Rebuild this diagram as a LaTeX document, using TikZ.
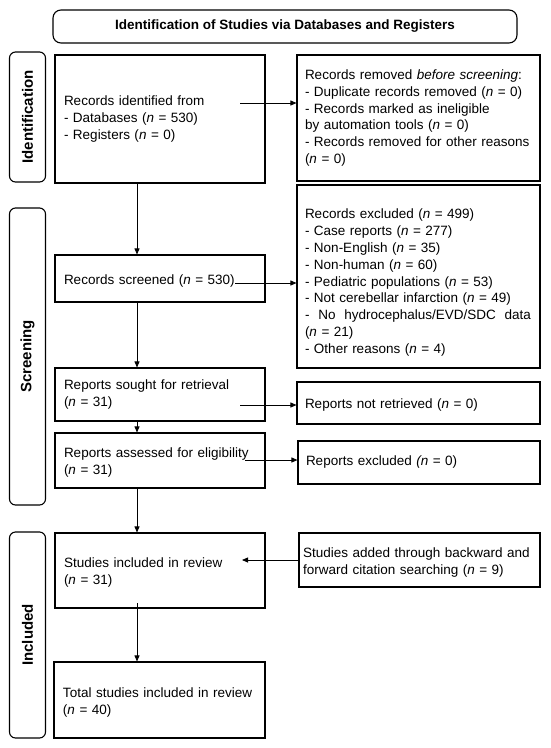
\documentclass[tikz,border=0pt]{standalone}
\usepackage{fontspec}
\setmainfont{Liberation Sans}
\usetikzlibrary{arrows.meta}
\newcommand\tgap[1]{\rule{0pt}{#1}}
\begin{document}
\begin{tikzpicture}[x=1pt,y=1pt,
  box/.style={draw,line width=1.1pt,rectangle,inner xsep=9pt,inner ysep=0pt,align=left,
    font=\fontsize{13.5}{16.8}\selectfont},
  side/.style={draw,line width=1.1pt,rounded corners=6pt,minimum height=36pt,inner sep=0pt,
    rotate=90,font=\fontsize{15}{18}\selectfont\bfseries},
  arr/.style={line width=0.8pt,-{Triangle[length=6pt,width=5pt]}}]
\useasboundingbox (0,0) rectangle (550,-748);
% title
\node[draw,line width=1.1pt,rounded corners=8pt,minimum width=464pt,minimum height=33pt,
  font=\fontsize{13.5}{16}\selectfont\bfseries] (title) at (285,-26.5)
  {Identification of Studies via Databases and Registers};
% side labels
\node[side,minimum width=130pt] (sid) at (27.5,-117) {Identification};
\node[side,minimum width=297pt] (sscr) at (27.5,-356.5) {Screening};
\node[side,minimum width=206pt] (sinc) at (27.5,-635) {Included};
% boxes
\node[box,text width=192pt,minimum height=128pt] (ident) at (160,-119)
  {Records identified from\\- Databases (\textit{n} = 530)\\- Registers (\textit{n} = 0)\\[14pt]};
\node[box,text width=227pt,inner xsep=8pt,minimum height=126pt] (removed) at (418.5,-118)
  {Records removed \textit{before screening}:\\- Duplicate records removed (\textit{n} = 0)\\- Records marked as ineligible\\by automation tools (\textit{n} = 0)\\- Records removed for other reasons\\(\textit{n} = 0)};
\node[box,text width=192pt,minimum height=47pt] (screened) at (160,-278.5)
  {\tgap{14pt}Records screened (\textit{n} = 530)};
\node[box,text width=227pt,inner xsep=8pt,minimum height=183pt] (excl) at (418.5,-276.5)
  {\tgap{22pt}Records excluded (\textit{n} = 499)\\- Case reports (\textit{n} = 277)\\- Non-English (\textit{n} = 35)\\- Non-human (\textit{n} = 60)\\- Pediatric populations (\textit{n} = 53)\\- Not cerebellar infarction (\textit{n} = 49)\\\makebox[226pt][l]{-\hfill No\hfill hydrocephalus/EVD/SDC\hfill data}\\(\textit{n} = 21)\\- Other reasons (\textit{n} = 4)};
\node[box,text width=192pt,minimum height=53pt] (sought) at (160,-394.5)
  {Reports sought for retrieval\\(\textit{n} = 31)\\[8pt]};
\node[box,text width=227pt,inner xsep=8pt,minimum height=42pt] (notret) at (418.5,-403)
  {\tgap{13pt}Reports not retrieved (\textit{n} = 0)};
\node[box,text width=192pt,minimum height=55pt] (assessed) at (160,-460.5)
  {\tgap{14pt}Reports assessed for eligibility\\(\textit{n} = 31)};
\node[box,text width=226pt,inner xsep=8pt,minimum height=43pt] (repexcl) at (419,-462.5)
  {Reports excluded \textit{(n} = 0)};
\node[box,text width=192pt,minimum height=75pt] (incl) at (160,-570.5)
  {\tgap{14pt}Studies included in review\\(\textit{n} = 31)};
\node[box,text width=233pt,inner xsep=4pt,minimum height=54pt] (added) at (419.5,-560)
  {\tgap{14pt}Studies added through backward and\\forward citation searching (\textit{n} = 9)};
\node[box,text width=193pt,minimum height=76pt] (total) at (159.5,-700)
  {\tgap{14pt}Total studies included in review\\(\textit{n} = 40)};
% connectors
\coordinate (a1) at (240,-103);
\draw[arr] (a1) -- (a1 -| removed.west);
\coordinate (v1) at (137,0);
\draw[arr] (v1 |- ident.south) -- (v1 |- screened.north);
\coordinate (a2) at (235,-283);
\draw[arr] (a2) -- (a2 -| excl.west);
\draw[arr] (v1 |- screened.south) -- (v1 |- sought.north);
\coordinate (a3) at (240,-405);
\draw[arr] (a3) -- (a3 -| notret.west);
\draw[arr] (v1 |- sought.south) -- (v1 |- assessed.north);
\coordinate (a4) at (245,-460);
\draw[arr] (a4) -- (a4 -| repexcl.west);
\draw[arr] (v1 |- assessed.south) -- (v1 |- incl.north);
\coordinate (a5) at (242,-560);
\draw[arr] (a5 -| added.west) -- (a5);
\coordinate (v2) at (137,-603);
\draw[arr] (v2) -- (v2 |- total.north);
\end{tikzpicture}
\end{document}
